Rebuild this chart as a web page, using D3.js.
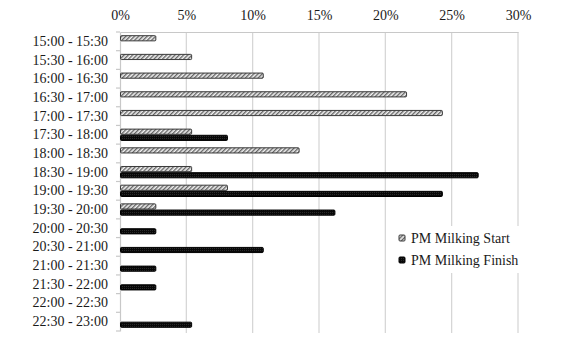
<!DOCTYPE html>
<html>
<head>
<meta charset="utf-8">
<script src="https://cdn.jsdelivr.net/npm/d3@7"></script>
<style>
  html, body { margin: 0; padding: 0; background: #fff; }
  svg { display: block; }
</style>
</head>
<body>
<svg id="chart" width="584" height="341"></svg>
<script>
// Half-hour time slots (evening)
const slots = [
  "15:00 - 15:30", "15:30 - 16:00", "16:00 - 16:30", "16:30 - 17:00",
  "17:00 - 17:30", "17:30 - 18:00", "18:00 - 18:30", "18:30 - 19:00",
  "19:00 - 19:30", "19:30 - 20:00", "20:00 - 20:30", "20:30 - 21:00",
  "21:00 - 21:30", "21:30 - 22:00", "22:00 - 22:30", "22:30 - 23:00"
];
// Share of milkings (%) per slot
const pmStart  = [2.7, 5.4, 10.8, 21.6, 24.3, 5.4, 13.5, 5.4, 8.1, 2.7, 0, 0, 0, 0, 0, 0];
const pmFinish = [0, 0, 0, 0, 0, 8.1, 0, 27.0, 24.3, 16.2, 2.7, 10.8, 2.7, 2.7, 0, 5.4];
const seriesNames = ["PM Milking Start", "PM Milking Finish"];
const xTicks = [0, 5, 10, 15, 20, 25, 30];

const serif = '"Liberation Serif", "Times New Roman", serif';
const svg = d3.select("#chart");
const plotLeft = 120, plotRight = 518, plotTop = 32, plotBottom = 331;

const x = d3.scaleLinear().domain([0, 30]).range([plotLeft, plotRight]);
const y = d3.scaleBand().domain(slots).range([plotTop, plotBottom]).padding(0);
const sub = d3.scaleBand().domain(seriesNames)
  .range([y.bandwidth() * 0.17, y.bandwidth() * 0.83]).padding(0);

// Fill patterns
const defs = svg.append("defs");
const hatch = defs.append("pattern").attr("id", "hatch")
  .attr("patternUnits", "userSpaceOnUse").attr("width", 3).attr("height", 3)
  .attr("patternTransform", "rotate(45)");
hatch.append("rect").attr("width", 3).attr("height", 3).attr("fill", "#f2f2f2");
hatch.append("rect").attr("width", 1.4).attr("height", 3).attr("fill", "#666");

const dots = defs.append("pattern").attr("id", "dots")
  .attr("patternUnits", "userSpaceOnUse").attr("width", 2).attr("height", 2);
dots.append("rect").attr("width", 2).attr("height", 2).attr("fill", "#080808");
dots.append("rect").attr("width", 1).attr("height", 1).attr("fill", "#2a2a2a");

// Vertical gridlines
svg.append("g").selectAll("line").data(xTicks.slice(1)).join("line")
  .attr("x1", d => x(d)).attr("x2", d => x(d))
  .attr("y1", plotTop).attr("y2", plotBottom + 2)
  .attr("stroke", "#d4d4d4").attr("stroke-width", 1.2);

// Top axis
const xAxis = d3.axisTop(x).tickValues(xTicks).tickFormat(d => d + "%").tickSize(0).tickPadding(12);
const gx = svg.append("g").attr("transform", `translate(0,${plotTop})`).call(xAxis)
  .attr("font-family", serif).attr("font-size", 14);
gx.select(".domain").attr("stroke", "#c8c8c8").attr("stroke-width", 1.2);
gx.selectAll("text").attr("fill", "#1a1a1a");

// Left category axis
const yAxis = d3.axisLeft(y).tickSize(0).tickPadding(12);
const gy = svg.append("g").attr("transform", `translate(${plotLeft},0)`).call(yAxis)
  .attr("font-family", serif).attr("font-size", 14);
gy.select(".domain").attr("stroke", "#c8c8c8").attr("stroke-width", 1.2);
gy.selectAll("text").attr("fill", "#1a1a1a");

// Boundary tick marks between slots
const bounds = slots.map(s => y(s)).concat([y(slots[slots.length - 1]) + y.bandwidth()]);
svg.append("g").selectAll("line").data(bounds).join("line")
  .attr("x1", plotLeft - 4).attr("x2", plotLeft).attr("y1", d => d).attr("y2", d => d)
  .attr("stroke", "#c8c8c8").attr("stroke-width", 1.2);

// Bars
const series = [
  { name: seriesNames[0], values: pmStart, fill: "url(#hatch)", stroke: "#3a3a3a" },
  { name: seriesNames[1], values: pmFinish, fill: "url(#dots)", stroke: "#000" }
];
series.forEach(s => {
  svg.append("g").selectAll("rect")
    .data(slots.map((c, i) => ({ c, v: s.values[i] })).filter(d => d.v > 0))
    .join("rect")
    .attr("x", x(0) + 0.5)
    .attr("y", d => y(d.c) + sub(s.name) + 0.5)
    .attr("width", d => x(d.v) - x(0) - 0.5)
    .attr("height", sub.bandwidth() - 1)
    .attr("rx", 1)
    .attr("fill", s.fill).attr("stroke", s.stroke).attr("stroke-width", 1);
});

// Legend
const lg = svg.append("g").attr("transform", "translate(388,226)");
lg.append("rect").attr("width", 144).attr("height", 47).attr("fill", "#fff");
series.forEach((s, i) => {
  const row = lg.append("g").attr("transform", `translate(11,${12 + i * 22})`);
  row.append("rect").attr("x", 0).attr("y", -3).attr("width", 6).attr("height", 6)
    .attr("rx", 1).attr("fill", s.fill).attr("stroke", s.stroke);
  row.append("text").attr("x", 12).attr("y", 0).attr("dy", "0.35em")
    .attr("font-family", serif).attr("font-size", 14).attr("fill", "#1a1a1a").text(s.name);
});
</script>
</body>
</html>
